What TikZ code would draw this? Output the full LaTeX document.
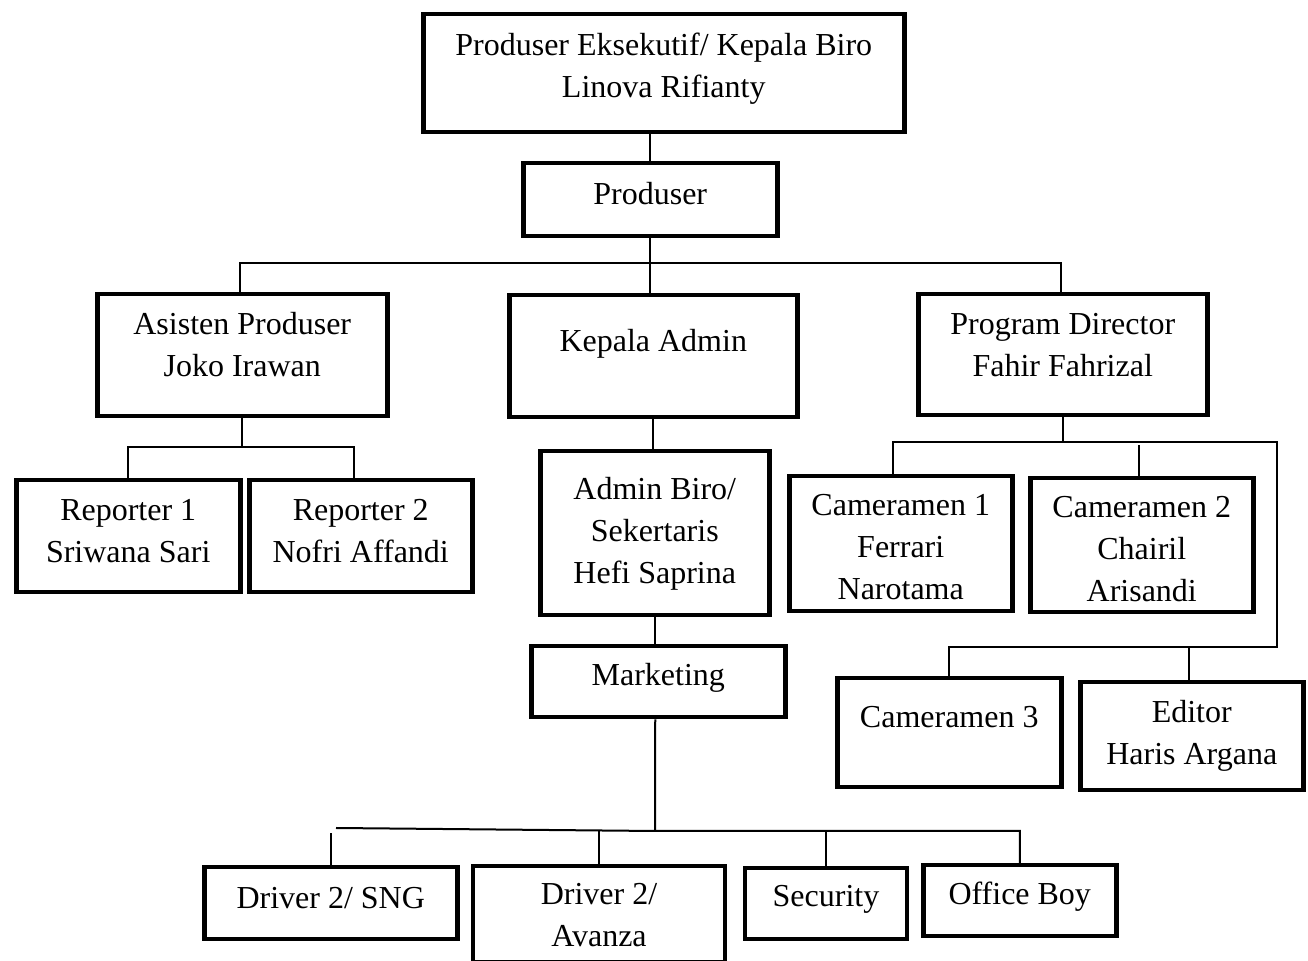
\documentclass[tikz,border=0pt]{standalone}
\usepackage{fontspec}
\setmainfont{Liberation Serif}
\usetikzlibrary{positioning}
\usetikzlibrary{calc}

\begin{document}
\begin{tikzpicture}[
	    x=0.5pt, y=-0.5pt,
	    box/.style={rectangle, draw, line width=2.25pt, inner sep=0pt, align=center, anchor=north west, font=\fontsize{16pt}{21pt}\selectfont},
	    boxsize/.style n args={4}{minimum width=#1, minimum height=#2, text height=#3, text depth=#4},
	    normalline/.style={line width=1pt},
	]
	\useasboundingbox (0,0) rectangle (1308,961);

	\node[box, boxsize={240.5pt}{59pt}{41.5pt}{17.5pt}] (kabiro) at (421,12) {Produser Eksekutif/ Kepala Biro\\Linova Rifianty};
	\node[box, boxsize={127pt}{36.5pt}{20.5pt}{16pt}] (prod) at (521,161) {Produser};

	\node[box, boxsize={145pt}{61pt}{41pt}{20pt}] (asisten) at (95,292) {Asisten Produser\\Joko Irawan};
	\node[box, boxsize={144pt}{61pt}{28pt}{33pt}] (kadmin) at (507,293) {Kepala Admin};
	\node[box, boxsize={144.5pt}{60.5pt}{41pt}{19.5pt}] (progdir) at (916,292) {Program Director\\Fahir Fahrizal};

	\node[box, boxsize={112pt}{56pt}{41pt}{15pt}] (rep1) at (14,478) {Reporter 1\\Sriwana Sari};
	\node[box, boxsize={111.5pt}{56pt}{41pt}{15pt}] (rep2) at (247,478) {Reporter 2\\Nofri Affandi};
	\node[box, boxsize={114.5pt}{82pt}{66pt}{16pt}] (adminbiro) at (538,449) {Admin Biro/\\Sekertaris\\Hefi Saprina};
	\node[box, boxsize={127pt}{35.5pt}{19.5pt}{16pt}] (marketing) at (529,644) {Marketing};

	\node[box, boxsize={111.5pt}{67.5pt}{61.5pt}{6pt}] (cam1) at (787,474) {Cameramen 1\\Ferrari\\Narotama};
	\node[box, boxsize={111.5pt}{67pt}{61.5pt}{5.5pt}] (cam2) at (1028,476) {Cameramen 2\\Chairil\\Arisandi};
	\node[box, boxsize={112pt}{54.5pt}{24.5pt}{30pt}] (cam3) at (835,676) {Cameramen 3};
	\node[box, boxsize={111.5pt}{54pt}{41pt}{13pt}] (editor) at (1078,680) {Editor\\Haris Argana};

	\node[box, boxsize={126.5pt}{36pt}{20.5pt}{15.5pt}] (sng) at (202,865) {Driver 2/ SNG};
	\node[box, line width=2pt, boxsize={126pt}{48pt}{40.5pt}{7.5pt}] (avanza) at (471,864) {Driver 2/\\Avanza};
	\node[box, line width=2pt, boxsize={81pt}{35.5pt}{19.5pt}{16pt}] (security) at (743,866) {Security};
	\node[box, boxsize={96.5pt}{35.5pt}{19.5pt}{16pt}] (officeboy) at (921,863) {Office Boy};

	% junction points of the lines
	\coordinate (topbus) at (648,263);
	\coordinate (apbus) at (240,447);
	\coordinate (pdbus) at (1059,442);
	\coordinate (pdturn) at (1277,647);
	\coordinate (mktbus) at (655,831);
	\coordinate (busleft) at (336,828);

	\draw [normalline] (prod.north) -- (prod.north |- kabiro.south);
	\draw [normalline] (prod.south) -- (prod.south |- kadmin.north);
	\draw [normalline] ([xshift=-1pt]asisten.north) |- (topbus) -| ([xshift=-0.75pt]progdir.north);

	\draw [normalline] (asisten.south) -- (asisten.south |- apbus);
	\draw [normalline] (rep1.north) |- (apbus) -| ([xshift=-3.25pt]rep2.north);

	\draw [normalline] (kadmin.south) -- (kadmin.south |- adminbiro.north);
	\draw [normalline] (adminbiro.south) -- (adminbiro.south |- marketing.north);
	\draw [normalline] ([xshift=-1.5pt]marketing.south) -- (mktbus);

	\draw [normalline] (busleft) -- (mktbus) -| (officeboy.north);
	\draw [normalline] (sng.north) -- ++(0,-32);
	\draw [normalline] (avanza.north) -- (avanza.north |- mktbus);
	\draw [normalline] (security.north) -- (security.north |- mktbus);

	\draw [normalline] (progdir.south) -- (progdir.south |- pdbus);
	\draw [normalline] ([xshift=-3.75pt]cam1.north) |- (pdbus) -| (pdturn) -| (cam3.north);
	\draw [normalline] ([xshift=-1.25pt]cam2.north) -- ++(0,-31);
	\draw [normalline] ([xshift=-1.25pt]editor.north) -- ++(0,-33);
\end{tikzpicture}
\end{document}
